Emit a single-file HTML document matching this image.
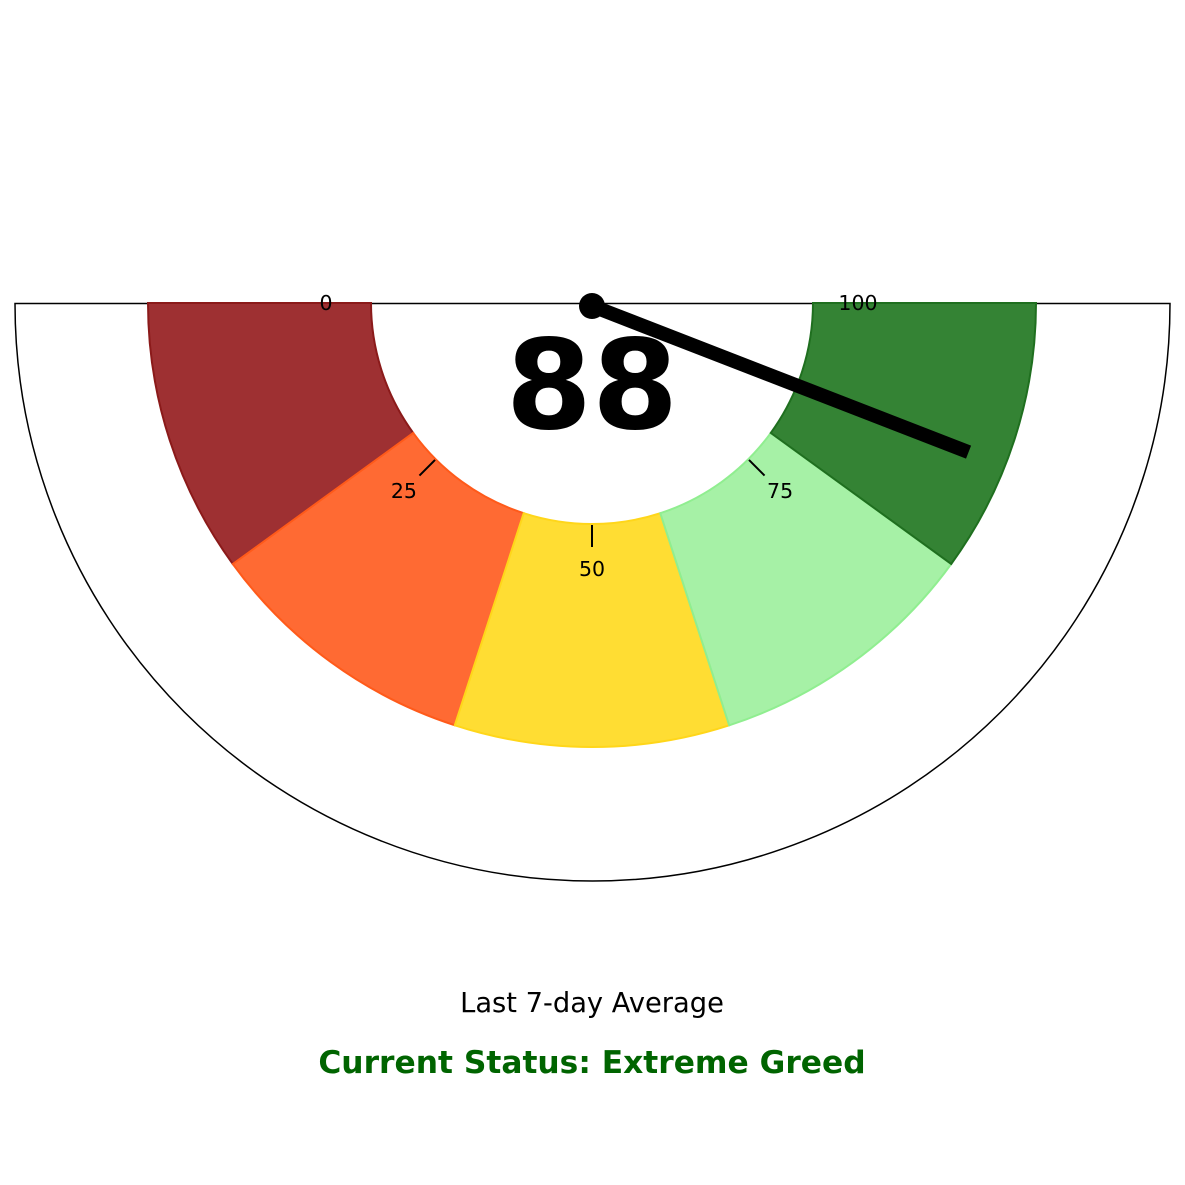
<!DOCTYPE html>
<html><head><meta charset="utf-8"><style>
html,body{margin:0;padding:0;background:#fff}
svg{display:block;font-family:"DejaVu Sans","Liberation Sans",sans-serif}
</style></head><body>
<svg id="g" width="1185" height="1185" viewBox="0 0 1185 1185" xmlns="http://www.w3.org/2000/svg">
<rect width="1185" height="1185" fill="#fff"/>
<path d="M15,303.5 L1170,303.5 A577.5,577.5 0 0 1 15,303.5 Z" fill="none" stroke="#000" stroke-width="1.5"/>
<g id="segs"></g>
<g id="ticks"></g>
<text x="592" y="428" text-anchor="middle" font-size="124" font-weight="bold" fill="#000">88</text>
<g id="needle"></g>
<text x="592" y="1012" text-anchor="middle" font-size="27.3" fill="#000">Last 7-day Average</text>
<text x="592" y="1073" text-anchor="middle" font-size="31.3" font-weight="bold" fill="#006400">Current Status: Extreme Greed</text>
</svg>
<script>
const segStarts=[0,20,40,60,80];
const segEnds=[20,40,60,80,100];
const segNames=['extreme-fear','fear','neutral','greed','extreme-greed'];
const segFill=['#9e3032','#ff6a33','#ffdd33','#a6f1a6','#348334'];
const segStroke=['#8b1a1a','#ff5a1a','#ffd61a','#90ee90','#1f6f1f'];
const tickValues=[0,25,50,75,100];
const tickLabels=['0','25','50','75','100'];
const gaugeValue=88;
const cx=592,cy=303,rIn=221,rOut=444,rLab=266;
const NS='http://www.w3.org/2000/svg';
function ang(v){return Math.PI+v/100*Math.PI;}
function pt(v,r){const a=ang(v);return [cx+r*Math.cos(a),cy-r*Math.sin(a)];}
const segG=document.getElementById('segs');
segStarts.forEach((s,i)=>{
 const e=segEnds[i];
 const a=pt(s,rOut),b=pt(e,rOut),c=pt(e,rIn),d=pt(s,rIn);
 const p=document.createElementNS(NS,'path');
 p.setAttribute('d',`M${a[0]},${a[1]} A${rOut},${rOut} 0 0 0 ${b[0]},${b[1]} L${c[0]},${c[1]} A${rIn},${rIn} 0 0 1 ${d[0]},${d[1]} Z`);
 p.setAttribute('fill',segFill[i]);p.setAttribute('stroke',segStroke[i]);p.setAttribute('stroke-width','2');
 
 
 segG.appendChild(p);
});
const tG=document.getElementById('ticks');
tickValues.forEach((v,i)=>{
 if(v>0&&v<100){
  const a=pt(v,rIn+1),b=pt(v,rIn+23);
  const l=document.createElementNS(NS,'line');
  l.setAttribute('x1',a[0]);l.setAttribute('y1',a[1]);l.setAttribute('x2',b[0]);l.setAttribute('y2',b[1]);
  l.setAttribute('stroke','#000');l.setAttribute('stroke-width','2');
  
  
  tG.appendChild(l);
 }
 const q=pt(v,rLab);
 const t=document.createElementNS(NS,'text');
 t.setAttribute('x',q[0]);t.setAttribute('y',q[1]+7);t.setAttribute('text-anchor','middle');
 t.setAttribute('font-size','20.5');t.textContent=tickLabels[i];
 
 
 tG.appendChild(t);
});
const nG=document.getElementById('needle');
const tip=pt(gaugeValue,405);
const ln=document.createElementNS(NS,'line');
ln.setAttribute('x1',cx);ln.setAttribute('y1',cy+3);ln.setAttribute('x2',tip[0]);ln.setAttribute('y2',tip[1]);
ln.setAttribute('stroke','#000');ln.setAttribute('stroke-width','14');


nG.appendChild(ln);
const hub=document.createElementNS(NS,'circle');
hub.setAttribute('cx',cx);hub.setAttribute('cy',cy+3);hub.setAttribute('r','13');hub.setAttribute('fill','#000');


nG.appendChild(hub);
</script>
</body></html>
